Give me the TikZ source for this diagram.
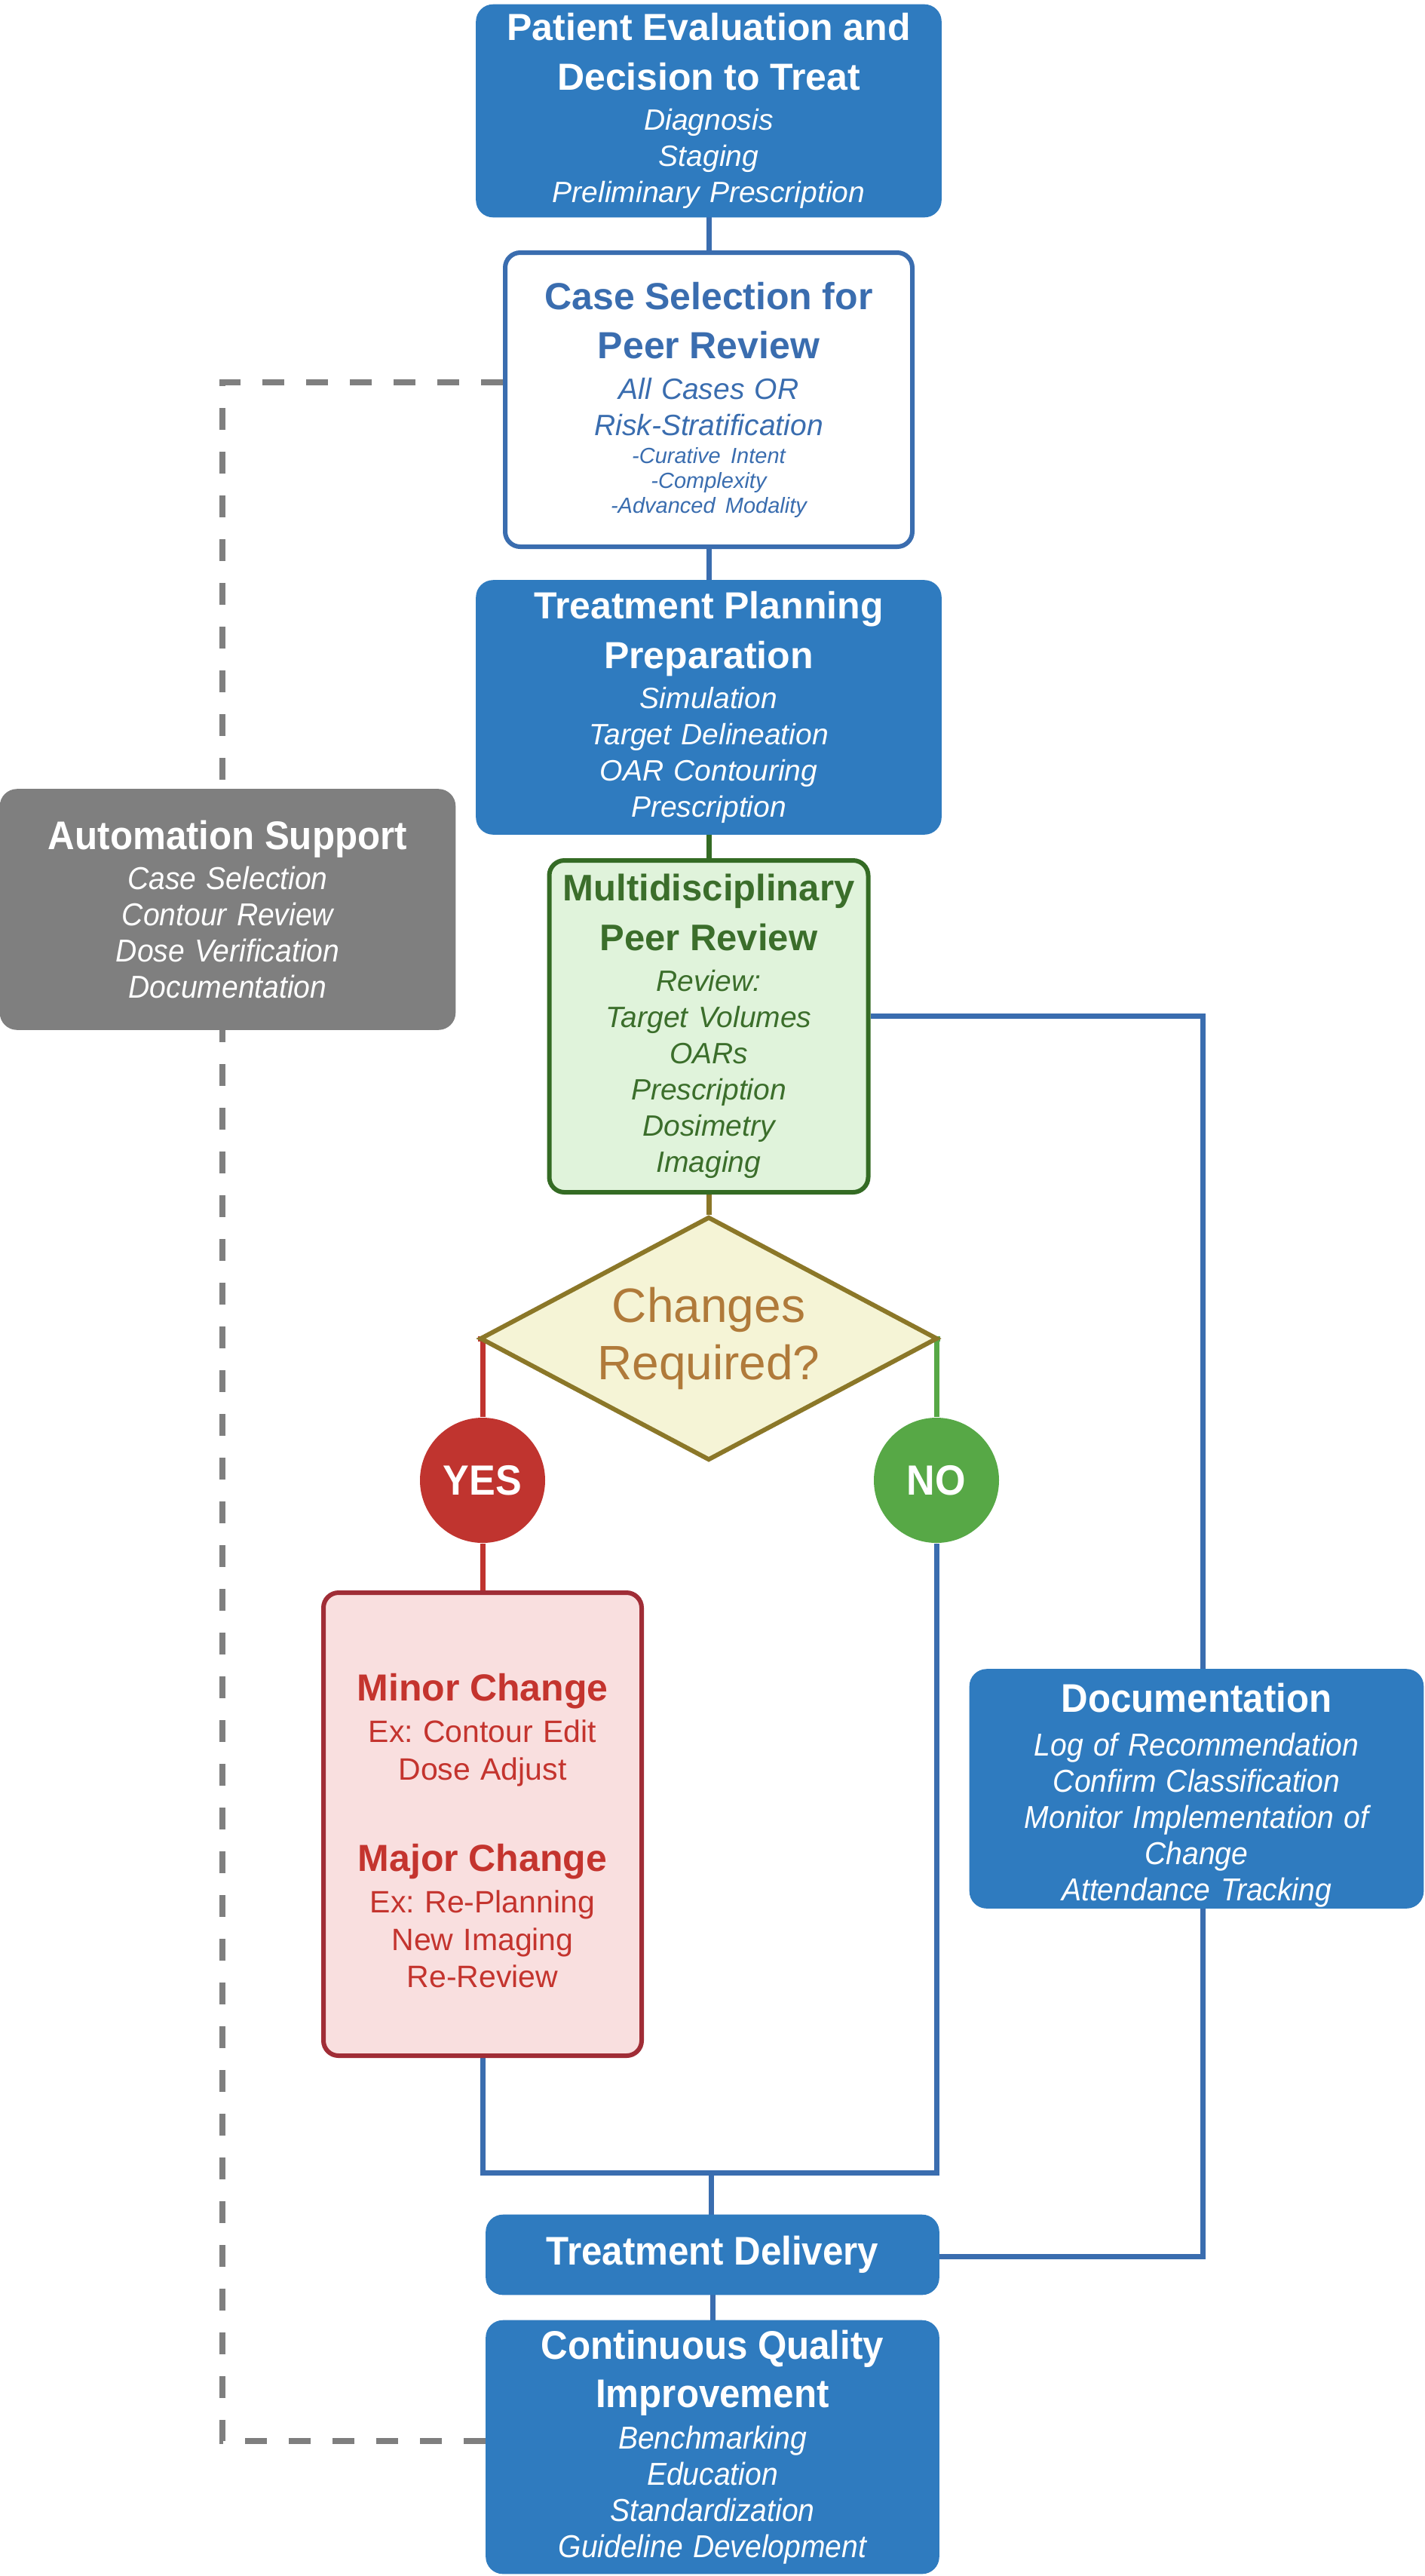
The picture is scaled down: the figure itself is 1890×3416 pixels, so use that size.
\documentclass[tikz,border=0pt]{standalone}
\usepackage{fontspec}
\setmainfont{Liberation Sans}
\newfontfamily\condfont[FakeStretch=0.93]{Liberation Sans}
\usetikzlibrary{shapes.geometric,backgrounds}
\frenchspacing

\definecolor{qblue}{RGB}{47,123,191}
\definecolor{qline}{RGB}{58,109,175}
\definecolor{qgray}{RGB}{127,127,127}
\definecolor{qgreenfill}{RGB}{224,243,219}
\definecolor{qgreen}{RGB}{52,107,36}
\definecolor{qgreentext}{RGB}{59,110,43}
\definecolor{qolivefill}{RGB}{245,244,214}
\definecolor{qolive}{RGB}{139,119,40}
\definecolor{qolivetext}{RGB}{176,122,58}
\definecolor{qyes}{RGB}{192,52,47}
\definecolor{qno}{RGB}{87,168,70}
\definecolor{qredfill}{RGB}{249,223,223}
\definecolor{qred}{RGB}{160,45,54}
\definecolor{qredtext}{RGB}{196,52,46}

\newcommand{\boxhead}{\fontsize{12.5}{16.4}\selectfont\bfseries}
\newcommand{\boxitem}{\fontsize{9.75}{12}\selectfont\itshape}
\newcommand{\boxsmall}{\fontsize{7.25}{8.25}\selectfont\itshape}
\newcommand{\redtext}{\fontsize{10.25}{12.4}\selectfont}
\newcommand{\condhead}{\condfont\fontsize{13.25}{16}\selectfont\bfseries}
\newcommand{\conditem}{\condfont\fontsize{10.5}{12}\selectfont\itshape}
\newcommand{\headgap}{\vspace{1.3pt}}

\tikzset{
  stage/.style={rectangle, rounded corners=5.5pt, fill=qblue, draw=qblue, text=white,
    align=center, inner xsep=1pt, inner ysep=0pt},
  casebox/.style={rectangle, rounded corners=5pt, fill=white, draw=qline, line width=1.5pt,
    text=qline, align=center, inner xsep=1pt, inner ysep=0pt},
  autobox/.style={stage, fill=qgray, draw=qgray},
  peerbox/.style={rectangle, rounded corners=5pt, fill=qgreenfill, draw=qgreen, line width=1.5pt,
    text=qgreentext, align=center, inner xsep=0.5pt, inner ysep=0pt},
  askbox/.style={diamond, aspect=1.88, inner sep=0pt, fill=qolivefill, draw=qolive,
    line width=1.5pt, text=qolivetext, align=center, font=\fontsize{16}{19}\selectfont},
  answer/.style={circle, inner sep=0pt, minimum size=41.5pt, text=white,
    font=\condfont\fontsize{14}{16}\selectfont\bfseries},
  changebox/.style={rectangle, rounded corners=5pt, fill=qredfill, draw=qred, line width=1.5pt,
    text=qredtext, align=center, inner xsep=1pt, inner ysep=0pt},
  link/.style={draw=qline, line width=1.75pt},
  feedback/.style={draw=qgray, line width=2pt, dash pattern=on 7.25pt off 7.25pt}
}

\begin{document}
\begin{tikzpicture}[x=0.25pt, y=-0.25pt]
  \useasboundingbox (0,0) rectangle (1890,3416);

  \node[stage, minimum width=154pt, minimum height=70.25pt, text width=152pt] (evaluation) at (940,147)
    {{\boxhead Patient Evaluation and\\Decision to Treat\par}\headgap{\boxitem Diagnosis\\Staging\\Preliminary Prescription\par}};
  \node[casebox, minimum width=135pt, minimum height=97.5pt, text width=133pt] (selection) at (940,530)
    {{\boxhead Case Selection for\\Peer Review\par}\headgap{\boxitem All Cases OR\\Risk-Stratification\par}\vspace{1pt}{\boxsmall -Curative Intent\\-Complexity\\-Advanced Modality\par}};
  \node[stage, minimum width=154pt, minimum height=84pt, text width=152pt] (planning) at (940,938)
    {{\boxhead Treatment Planning\\Preparation\par}\headgap{\boxitem Simulation\\Target Delineation\\OAR Contouring\\Prescription\par}};
  \node[autobox, minimum width=150.75pt, minimum height=79.5pt, text width=148pt] (auto) at (302,1206)
    {{\condhead Automation Support\par}\headgap{\conditem Case Selection\\Contour Review\\Dose Verification\\Documentation\par}};
  \node[peerbox, minimum width=105.75pt, minimum height=110pt, text width=104.5pt] (peer) at (940,1361)
    {{\fontsize{12.25}{16.4}\selectfont\bfseries Multidisciplinary\\Peer Review\par}\vspace{1.6pt}{\boxitem Review:\\Target Volumes\\OARs\\Prescription\\Dosimetry\\Imaging\par}};
  \node[askbox, minimum width=151.75pt, minimum height=80.75pt] (decision) at (940,1775)
    {Changes\\Required?};
  \node[answer, fill=qyes] (yes) at (640,1963) {YES};
  \node[answer, fill=qno] (no) at (1242,1963) {NO};
  \node[changebox, minimum width=105.5pt, minimum height=153.5pt, text width=103.5pt] (changes) at (640,2419)
    {{\boxhead\rule{0pt}{13.5pt}Minor Change\par}\headgap{\redtext Ex: Contour Edit\\Dose Adjust\par}\vspace{14pt}{\boxhead Major Change\par}\headgap{\redtext Ex: Re-Planning\\New Imaging\\Re-Review\par}};
  \node[stage, minimum width=150.25pt, minimum height=79pt, text width=148pt] (doc) at (1587,2372)
    {{\condhead\rule{0pt}{14pt}Documentation\par}\vspace{2.5pt}{\conditem Log of Recommendation\\Confirm Classification\\Monitor Implementation of\\Change\\Attendance Tracking\par}};
  \node[stage, minimum width=150pt, minimum height=26.25pt, text width=148pt] (delivery) at (945,2990)
    {\condhead Treatment Delivery};
  \node[stage, minimum width=150pt, minimum height=83.75pt, text width=148pt] (improvement) at (945,3245)
    {{\condhead Continuous Quality\\Improvement\par}\vspace{1.6pt}{\conditem Benchmarking\\Education\\Standardization\\Guideline Development\par}};

  \coordinate (looptop) at (295,507);
  \coordinate (loopbot) at (295,3237);
  \coordinate (docturn) at (1595,1347);
  \coordinate (docjoin) at (1595,2992);
  \coordinate (merge) at (943,2881);

  \begin{scope}[on background layer]
    \draw[link] (evaluation.south) -- (evaluation.south |- selection.north);
    \draw[link] (selection.south) -- (selection.south |- planning.north);
    \draw[draw=qgreen, line width=1.75pt] (planning.south) -- (planning.south |- peer.north);
    \draw[draw=qolive, line width=1.75pt] (peer.south) -- (peer.south |- decision.north);
    \draw[draw=qyes, line width=1.75pt] (decision.west) -| (yes.north);
    \draw[draw=qno, line width=1.75pt] (decision.east) -| (no.north);
    \draw[draw=qyes, line width=1.75pt] (yes.south) -- (yes.south |- changes.north);
    \draw[link] (changes.south) -- (changes.south |- merge) -- (no.south |- merge) -- (no.south);
    \draw[link] (merge) -- (merge |- delivery.north);
    \draw[link] (peer.east |- docturn) -- (docturn) -- (docturn |- doc.north);
    \draw[link] (docturn |- doc.south) -- (docjoin) -- (delivery.east |- docjoin);
    \draw[link] (delivery.south) -- (delivery.south |- improvement.north);
    \draw[feedback] (selection.west |- looptop) -- (looptop) -- (loopbot) -- (improvement.west |- loopbot);
  \end{scope}
\end{tikzpicture}
\end{document}
